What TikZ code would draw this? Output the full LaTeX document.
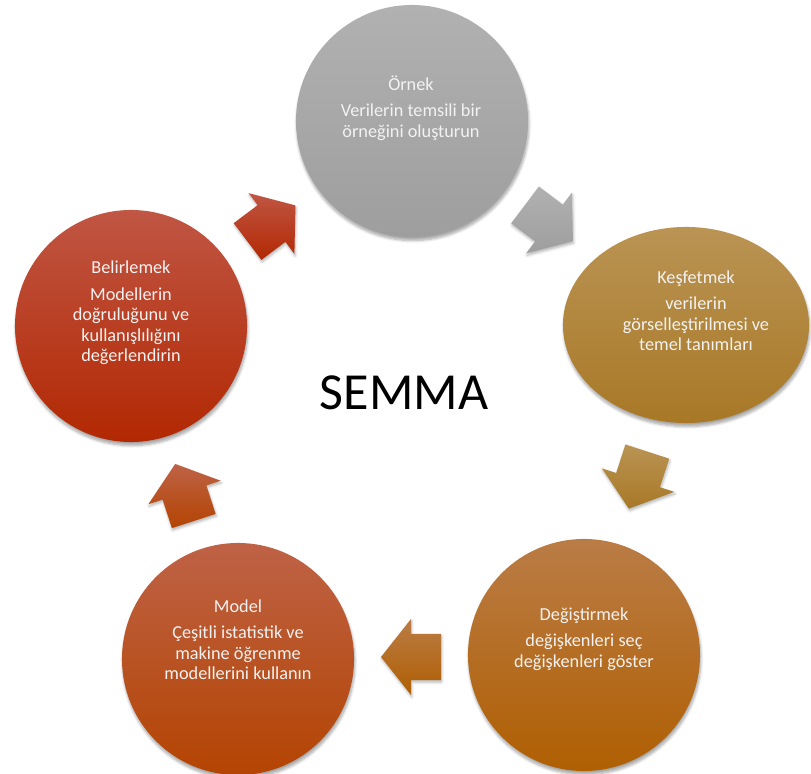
\documentclass[tikz,border=0pt]{standalone}
\usepackage{fontspec}
\setmainfont{Carlito}
\usetikzlibrary{shapes.geometric,calc,shadows.blur}

% fills, light top to dark bottom
\definecolor{ornekT}{RGB}{177,177,177}
\definecolor{ornekB}{RGB}{158,158,158}
\definecolor{kesfetT}{RGB}{186,148,84}
\definecolor{kesfetB}{RGB}{168,120,38}
\definecolor{degisT}{RGB}{186,124,70}
\definecolor{degisB}{RGB}{176,95,2}
\definecolor{modelT}{RGB}{190,98,70}
\definecolor{modelB}{RGB}{180,68,2}
\definecolor{belirleT}{RGB}{192,86,68}
\definecolor{belirleB}{RGB}{178,40,2}

\begin{document}
\begin{tikzpicture}[
  x=0.025cm, y=-0.025cm,
  stage/.style={circle, minimum size=5.8cm, inner sep=0pt,
                blur shadow={shadow xshift=0.6pt, shadow yshift=-2.5pt,
                             shadow opacity=35, shadow blur steps=6}},
  txt/.style={align=center, text=white!95!black,
              font=\fontsize{13}{14.6}\selectfont},
  blk/.style={blur shadow={shadow xshift=0.5pt, shadow yshift=-1.5pt,
                           shadow opacity=30, shadow blur steps=4}}
]
\useasboundingbox (0,0) rectangle (811,774);

% the five stages
\node[stage, top color=ornekT, bottom color=ornekB] (ornek) at (412,121) {};
\node[stage, ellipse, minimum width=6.15cm, minimum height=4.9cm,
      top color=kesfetT, bottom color=kesfetB] (kesfet) at (686,325) {};
\node[stage, top color=degisT, bottom color=degisB] (degis) at (584,655) {};
\node[stage, top color=modelT, bottom color=modelB] (model) at (238,659) {};
\node[stage, top color=belirleT, bottom color=belirleB] (belirle) at (131,326) {};

\node[txt] (ornek-t) at (411,108)
  {Örnek\\[4pt]Verilerin temsili bir\\örneğini oluşturun};
\node[txt] (kesfet-t) at (696,311)
  {Keşfetmek\\[4pt]verilerin\\görselleştirilmesi ve\\temel tanımları};
\node[txt] (degis-t) at (584,639)
  {Değiştirmek\\[4pt]değişkenleri seç\\değişkenleri göster};
\node[txt] (model-t) at (238,640)
  {Model\\[4pt]Çeşitli istatistik ve\\makine öğrenme\\modellerini kullanın};
\node[txt] (belirle-t) at (131,313)
  {Belirlemek\\[4pt]Modellerin\\doğruluğunu ve\\kullanışlılığını\\değerlendirin};

% block arrows half way between the stages (shaft 1.15cm, head 1.9cm)
\foreach \from/\to/\pos/\ang/\ct/\cb in {
    belirle/ornek/0.5/37/belirleT/belirleB,
    ornek/kesfet/0.5/-37/ornekT/ornekB,
    kesfet/degis/0.47/-108/kesfetT/kesfetB,
    degis/model/0.5/180/degisT/degisB,
    model/belirle/0.5/108/modelT/modelB}
{
  \coordinate (c) at ($(\from)!\pos!(\to)$);
  \path[blk, top color=\ct, bottom color=\cb]
    ($(c)+(\ang+180:0.75cm)+(\ang+90:0.575cm)$)
    -- ($(c)+(\ang+90:0.575cm)$) -- ($(c)+(\ang+90:0.95cm)$)
    -- ($(c)+(\ang:0.75cm)$)
    -- ($(c)+(\ang-90:0.95cm)$) -- ($(c)+(\ang-90:0.575cm)$)
    -- ($(c)+(\ang+180:0.75cm)+(\ang-90:0.575cm)$) -- cycle;
}

\node[font=\fontsize{37}{44}\selectfont] (semma) at (404,393) {SEMMA};
\end{tikzpicture}
\end{document}
